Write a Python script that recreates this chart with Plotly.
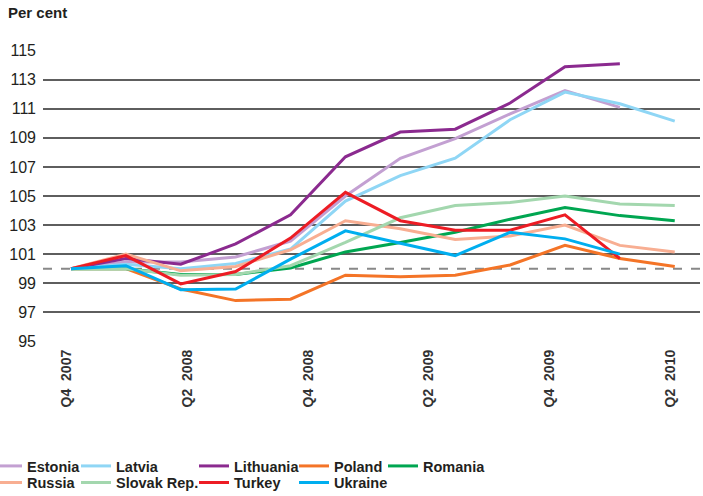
import numpy as np
import plotly.graph_objects as go

quarters = ["Q4 2007", "Q1 2008", "Q2 2008", "Q3 2008", "Q4 2008", "Q1 2009",
            "Q2 2009", "Q3 2009", "Q4 2009", "Q1 2010", "Q2 2010", "Q3 2010"]
tick_labels = ["Q4  2007", "Q2  2008", "Q4  2008", "Q2  2009", "Q4  2009", "Q2  2010"]

estonia = [100, 100.45, 100.45, 100.8, 101.9, 105.0, 107.6, 108.95, 110.65, 112.25, 111.1, None]
latvia = [100, 100.3, 100.0, 100.35, 101.35, 104.65, 106.4, 107.6, 110.25, 112.15, 111.35, 110.15]
lithuania = [100, 100.7, 100.3, 101.7, 103.7, 107.7, 109.4, 109.6, 111.4, 113.9, 114.1, None]
poland = [100, 100.0, 98.6, 97.8, 97.9, 99.55, 99.45, 99.55, 100.25, 101.6, 100.7, 100.15]
romania = [100, 100.0, 99.6, 99.6, 100.05, 101.15, 101.8, 102.5, 103.4, 104.2, 103.65, 103.3]
russia = [100, 101.0, 99.85, 100.15, 101.3, 103.3, 102.75, 102.0, 102.25, 103.0, 101.6, 101.15]
slovak = [100, 100.0, 99.55, 99.6, 100.2, 101.8, 103.5, 104.35, 104.55, 105.0, 104.45, 104.35]
turkey = [100, 100.9, 98.95, 99.8, 102.1, 105.25, 103.3, 102.65, 102.65, 103.7, 100.7, None]
ukraine = [100, 100.2, 98.55, 98.6, 100.65, 102.6, 101.75, 100.9, 102.5, 102.05, 101.0, None]

# name, values, colour, legend column, legend row
series = [
    ("Estonia", estonia, "#C3A0D2", 0, 0),
    ("Latvia", latvia, "#8FD6F5", 1, 0),
    ("Lithuania", lithuania, "#8B2A8F", 2, 0),
    ("Poland", poland, "#F47427", 3, 0),
    ("Romania", romania, "#00A651", 4, 0),
    ("Russia", russia, "#F8AE92", 0, 1),
    ("Slovak Rep.", slovak, "#A3D7AE", 1, 1),
    ("Turkey", turkey, "#ED1C24", 2, 1),
    ("Ukraine", ukraine, "#00AEEF", 3, 1),
]

W, H = 703, 496
x = list(range(len(quarters)))
font_family = "Liberation Sans, Arial, sans-serif"

legend_text_x = [27, 116, 234, 334, 423]   # pixel start of legend text per column
legend_row_top = [450, 466.5]               # pixel top of each legend row

fig = go.Figure()
layout_legends = {}
for i, (name, vals, color, col, row) in enumerate(series):
    ln = "legend" if i == 0 else f"legend{i + 1}"
    fig.add_trace(go.Scatter(x=x, y=vals, name=name, mode="lines",
                             line=dict(color=color, width=3),
                             legend=ln, connectgaps=False))
    left = legend_text_x[col] - 40
    indent = 0
    if left < 0:
        indent = max(left, -15)
        left = 0
    layout_legends[ln] = dict(
        orientation="v", xref="container", yref="container",
        xanchor="left", yanchor="top", bgcolor="rgba(0,0,0,0)",
        font=dict(family=font_family, size=14.5, color="#231F20", weight="bold"),
        itemwidth=30, tracegroupgap=0, indentation=indent,
        x=left / W, y=1 - legend_row_top[row] / H)

fig.update_layout(
    width=W, height=H,
    margin=dict(l=43, r=3, t=50, b=154, autoexpand=False),
    paper_bgcolor="white", plot_bgcolor="white",
    showlegend=True,
    font=dict(family=font_family, color="#231F20"),
    title=dict(text="Per cent", x=8 / W, xanchor="left", xref="container",
               y=1 - 13 / H, yanchor="middle", yref="container",
               font=dict(family=font_family, size=15, color="#231F20", weight="bold")),
    xaxis=dict(range=[-0.51, 11.46], showgrid=False, zeroline=False, showline=False,
               tickmode="array",
               tickvals=list(np.linspace(0, len(quarters) - 1, len(tick_labels)) - 0.08),
               ticktext=tick_labels, tickangle=-90,
               ticks="", ticklabelstandoff=4,
               tickfont=dict(family=font_family, size=14, color="#333333", weight="bold")),
    yaxis=dict(range=[94.95, 115.05], tick0=95, dtick=2, showgrid=True,
               gridcolor="#5E5E5E", gridwidth=1.5, zeroline=False, showline=False,
               ticks="", ticklabelstandoff=6,
               tickfont=dict(family=font_family, size=16, color="#231F20")),
    shapes=[dict(type="line", xref="paper", x0=0, x1=1, yref="y", y0=100, y1=100,
                 line=dict(color="#888888", width=2, dash="dash"), layer="below")],
    **layout_legends,
)

fig.write_html("out.html", config={"displayModeBar": False},
               post_script="document.body.style.margin='0px';")
